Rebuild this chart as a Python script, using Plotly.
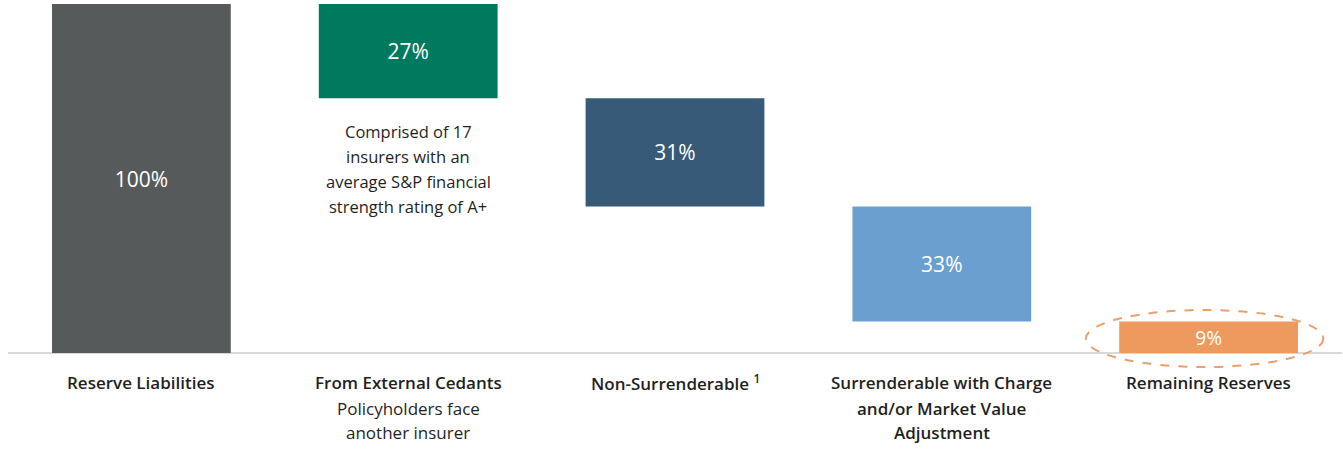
import plotly.graph_objects as go

categories = ["Reserve Liabilities", "From External Cedants", "Non-Surrenderable",
              "Surrenderable with Charge and/or Market Value Adjustment", "Remaining Reserves"]
values = [100, 27, 31, 33, 9]
labels = ["100%", "27%", "31%", "33%", "9%"]
colors = ["#575A5B", "#007A5E", "#375A78", "#6A9FCF", "#EE9A5E"]

label_lines = [
    [("Reserve Liabilities", True)],
    [("From External Cedants", True), ("Policyholders face", False), ("another insurer", False)],
    [("Non-Surrenderable <sup>1</sup>", True)],
    [("Surrenderable with Charge", True), ("and/or Market Value", True), ("Adjustment", True)],
    [("Remaining Reserves", True)],
]
note_lines = ["Comprised of 17", "insurers with an", "average S&P financial", "strength rating of A+"]

# waterfall bases
bases = []
remaining = values[0]
for i, v in enumerate(values):
    if i == 0 or i == len(values) - 1:
        bases.append(0)
    else:
        remaining -= v
        bases.append(remaining)

x = list(range(len(categories)))
FONT = "Open Sans"

fig = go.Figure(go.Bar(
    x=x, y=values, base=bases,
    marker=dict(color=colors, line=dict(width=0)),
    width=0.67,
    text=labels, textposition="inside", insidetextanchor="middle",
    textfont=dict(family=FONT, size=21, color="white"),
    hoverinfo="skip",
))

px_per = 349 / 100.0
def py(pix):
    return (353 - pix) / px_per

annotations = []
line_y = [382, 408, 432]
for i, lines in enumerate(label_lines):
    for j, (t, b) in enumerate(lines):
        annotations.append(dict(
            x=i, y=py(line_y[j]), xref="x", yref="y", text=t, showarrow=False,
            xanchor="center", yanchor="middle",
            font=dict(family=FONT, size=17, color="#1f1f1f", weight=600 if b else 400),
        ))
for j, t in enumerate(note_lines):
    annotations.append(dict(
        x=1, y=py(131 + 25 * j), xref="x", yref="y", text=t, showarrow=False,
        xanchor="center", yanchor="middle",
        font=dict(family=FONT, size=16.5, color="#1f1f1f"),
    ))

fig.add_shape(type="circle", xref="x", yref="y",
              x0=4 - 0.46, x1=4 + 0.43, y0=py(367), y1=py(310),
              line=dict(color="#E9A06C", width=2, dash="dash"), layer="above")

fig.update_layout(
    width=1343, height=453,
    margin=dict(l=8, r=1, t=4, b=0),
    paper_bgcolor="white", plot_bgcolor="white",
    showlegend=False,
    annotations=annotations,
    bargap=0.33,
    xaxis=dict(range=[-0.5, 4.5], showticklabels=False, showgrid=False, zeroline=False,
               showline=False, ticks=""),
    yaxis=dict(range=[py(453), 100], showticklabels=False, showgrid=False,
               zeroline=True, zerolinecolor="#D9D9D9", zerolinewidth=1.5, ticks=""),
)

fig.write_html("out.html", config={"displayModeBar": False},
               post_script="document.body.style.margin='0';document.body.style.overflow='hidden';")
